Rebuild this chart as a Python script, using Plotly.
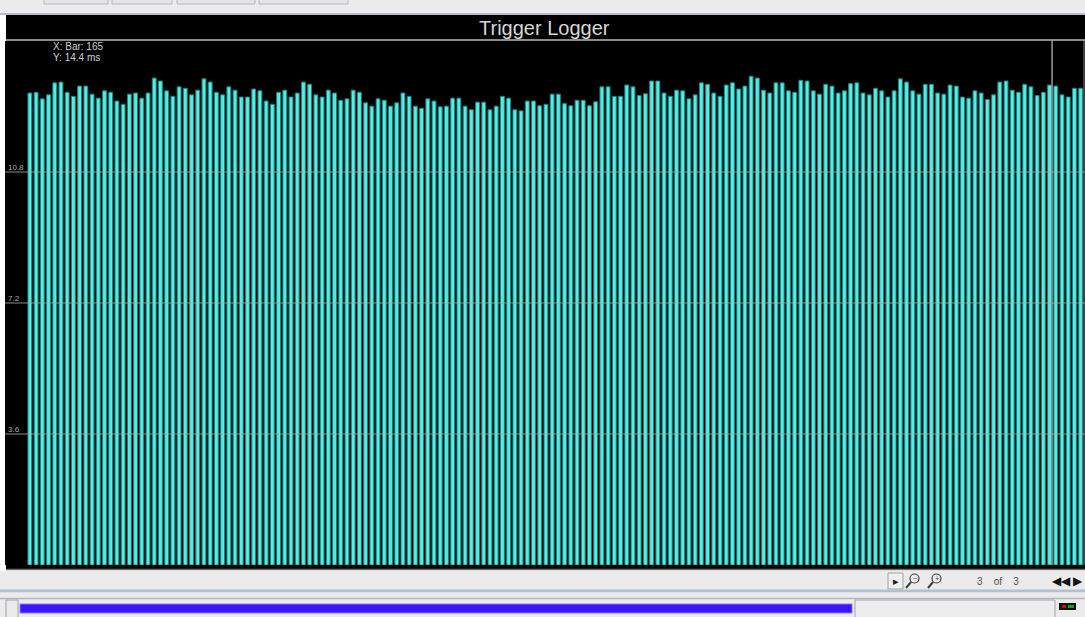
import plotly.graph_objects as go

# trigger logger, page 3 of 3 (bar number -> tooth time in ms)
bar_nums = list(range(1, 171))
trigger_ms = [
    12.97, 12.99, 12.81, 12.92, 13.25, 13.27, 12.99, 12.88, 13.16, 13.16,
    12.94, 12.83, 13.03, 12.99, 12.75, 12.66, 12.94, 12.97, 12.83, 12.97,
    13.38, 13.30, 13.03, 12.88, 13.14, 13.10, 12.92, 13.05, 13.36, 13.27,
    12.99, 12.92, 13.14, 13.05, 12.86, 12.86, 13.08, 13.03, 12.75, 12.66,
    12.99, 13.05, 12.86, 12.97, 13.27, 13.21, 12.92, 12.86, 13.05, 12.97,
    12.77, 12.81, 13.05, 12.99, 12.70, 12.61, 12.81, 12.77, 12.61, 12.70,
    12.97, 12.88, 12.61, 12.55, 12.81, 12.75, 12.59, 12.61, 12.83, 12.83,
    12.61, 12.51, 12.72, 12.72, 12.51, 12.61, 12.88, 12.83, 12.51, 12.48,
    12.75, 12.75, 12.62, 12.66, 12.94, 12.94, 12.68, 12.62, 12.77, 12.77,
    12.62, 12.73, 13.14, 13.14, 12.88, 12.88, 13.19, 13.14, 12.90, 12.95,
    13.30, 13.30, 12.97, 12.88, 13.05, 13.03, 12.81, 12.92, 13.25, 13.21,
    12.97, 12.88, 13.19, 13.25, 13.08, 13.16, 13.43, 13.38, 13.05, 12.97,
    13.25, 13.25, 13.03, 12.99, 13.32, 13.30, 13.03, 12.94, 13.21, 13.16,
    12.97, 13.03, 13.23, 13.25, 12.97, 12.92, 13.10, 13.03, 12.86, 13.03,
    13.36, 13.27, 13.03, 12.94, 13.21, 13.21, 12.97, 12.94, 13.19, 13.16,
    12.86, 12.83, 13.03, 12.97, 12.79, 12.92, 13.27, 13.30, 13.05, 12.99,
    13.21, 13.14, 12.90, 12.99, 13.19, 13.16, 12.92, 12.86, 13.10, 13.10,
]
grid_vals = [3.6, 7.2, 10.8]
grid_text = ['3.6', '7.2', '10.8']
hover_bar = 165
hover_lines = ['X: Bar: 165', 'Y: 14.4 ms']
page_text = '3    of    3'

W, H = 1085, 617
L, R, T, B = 5, 1085, 41, 565


def px(x):
    return (x - L) / (R - L)


def py(y):
    return (B - y) / (B - T)


def rect(x0, y0, x1, y1, fill, line=None, lw=0, layer='below'):
    return dict(type='rect', xref='paper', yref='paper', layer=layer,
                x0=px(x0), x1=px(x1), y0=py(y1), y1=py(y0),
                fillcolor=fill, line=dict(color=line or fill, width=lw))


def hline(x0, x1, y, color, lw=1, layer='above'):
    return dict(type='line', xref='paper', yref='paper', layer=layer,
                x0=px(x0), x1=px(x1), y0=py(y), y1=py(y),
                line=dict(color=color, width=lw))


fig = go.Figure(go.Bar(
    x=bar_nums, y=trigger_ms, width=0.62,
    marker=dict(color='#52eee6', line=dict(color='#22807c', width=1)),
    hoverinfo='skip'))

shapes = [
    # window chrome
    rect(0, 0, W, 15, '#ebebeb'),
    rect(44, -6, 108, 4, '#e4e4e4', '#b4b8c4', 1),
    rect(112, -6, 172, 4, '#e4e4e4', '#b4b8c4', 1),
    rect(177, -6, 255, 4, '#e4e4e4', '#b4b8c4', 1),
    rect(259, -6, 348, 4, '#e4e4e4', '#b4b8c4', 1),
    hline(0, W, 14, '#a8b0bc', 1.5),
    rect(6, 15, W, 41, '#000000'),
    hline(6, W, 40, '#8c8c8c', 2),
    rect(6, 565, W, 569, '#000000'),
    hline(6, W, 569.5, '#6e6e6e', 1.5),
    rect(0, 571, W, 590, '#ebebeb'),
    hline(0, W, 591, '#b4c0d0', 3),
    rect(0, 593, W, H, '#ebebeb'),
    hline(0, W, 598.5, '#b0b6c0', 1.5),
    rect(6, 600, 18, 620, '#ebebeb', '#a0a0a0', 1),
    rect(20, 604, 852, 613, '#3d12ff', '#8878ff', 1),
    rect(855, 600, 1055, 620, '#ededed', '#a4a4a4', 1),
    rect(1059, 603, 1076, 610, '#101010'),
    rect(1062, 605, 1066, 608, '#c01010'),
    rect(1068, 605, 1074, 608, '#10a020'),
    # toolbar buttons
    rect(888, 573, 903, 589, '#f0f0f0', '#a0a0a0', 1),
    dict(type='circle', xref='paper', yref='paper', x0=px(910), x1=px(919),
         y0=py(583), y1=py(574), line=dict(color='#404040', width=1.2)),
    dict(type='line', xref='paper', yref='paper', x0=px(911), x1=px(906),
         y0=py(582), y1=py(588), line=dict(color='#404040', width=2)),
    dict(type='circle', xref='paper', yref='paper', x0=px(932), x1=px(941),
         y0=py(583), y1=py(574), line=dict(color='#404040', width=1.2)),
    dict(type='line', xref='paper', yref='paper', x0=px(933), x1=px(928),
         y0=py(582), y1=py(588), line=dict(color='#404040', width=2)),
    # plot border and cursor
    dict(type='line', xref='paper', yref='paper', x0=px(1084), x1=px(1084),
         y0=py(565), y1=py(40), line=dict(color='#808080', width=1)),
    dict(type='line', xref='x', yref='paper', x0=hover_bar + 0.4, x1=hover_bar + 0.4,
         y0=0, y1=py(40), line=dict(color='#9a9a9a', width=1.5), layer='above'),
]
for g in grid_vals:
    shapes.append(dict(type='line', xref='paper', yref='y', x0=0, x1=1, y0=g, y1=g,
                       line=dict(color='rgba(170,170,170,0.8)', width=1), layer='above'))

ann = [
    dict(text='Trigger Logger', x=px(544), y=py(28), font=dict(size=20, color='#d6d6d6')),
    dict(text=hover_lines[0], x=px(51), y=py(47), xanchor='left',
         font=dict(size=10, color='#d0d0d0')),
    dict(text=hover_lines[1], x=px(51), y=py(57), xanchor='left',
         font=dict(size=10, color='#d0d0d0')),
    dict(text='▸', x=px(895.5), y=py(581), font=dict(size=11, color='#202020')),
    dict(text='−', x=px(914.5), y=py(578.5), font=dict(size=7, color='#404040')),
    dict(text='+', x=px(936.5), y=py(578.5), font=dict(size=7, color='#404040')),
    dict(text=page_text, x=px(998), y=py(581), font=dict(size=10, color='#505050')),
    dict(text='◀◀ ▶', x=px(1085), y=py(581), xanchor='right',
         font=dict(size=12, color='#101010')),
]
for a in ann:
    a.update(xref='paper', yref='paper', showarrow=False)
    a['font']['family'] = 'Liberation Sans'
    a.setdefault('xanchor', 'center')
    a.setdefault('yanchor', 'middle')

fig.update_layout(
    width=W, height=H, margin=dict(l=L, r=W - R, t=T, b=H - B),
    paper_bgcolor='#ffffff', plot_bgcolor='#000000',
    showlegend=False, shapes=shapes, annotations=ann,
    font=dict(family='Liberation Sans'))
fig.update_xaxes(range=[-3.0, 170.7], showgrid=False, zeroline=False,
                 showticklabels=False, ticks='', fixedrange=True)
fig.update_yaxes(range=[0, 14.4], showgrid=False, zeroline=False,
                 tickvals=grid_vals, ticktext=grid_text, ticks='',
                 ticklabelposition='inside', ticklabelshift=-5,
                 tickfont=dict(size=8, color='#a8a8a8'), fixedrange=True)

# the page's default 8px body margin would push the figure off the window
fig.write_html("out.html", config={'displayModeBar': False},
               post_script="document.body.style.margin='0';document.body.style.overflow='hidden';")
